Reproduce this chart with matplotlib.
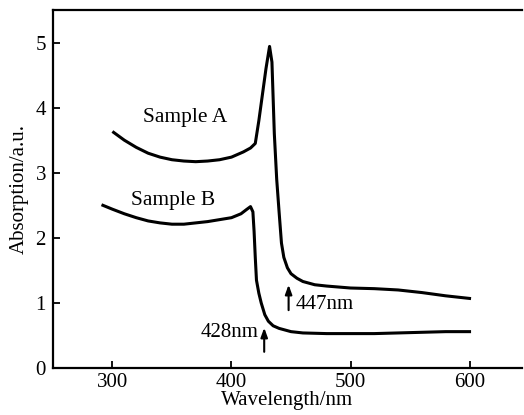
import numpy as np
import matplotlib
matplotlib.use("Agg")
import matplotlib.pyplot as plt

plt.rcParams["font.family"] = ["Liberation Serif", "DejaVu Serif"]

# values
wl_a = [301, 310, 320, 330, 340, 350, 360, 370, 380, 390, 400, 410, 416, 420,
        423, 426, 429, 432, 434, 436, 438, 440, 442, 444, 447, 450, 455, 460,
        470, 480, 500, 520, 540, 560, 580, 600]
abs_a = [3.62, 3.50, 3.39, 3.30, 3.24, 3.20, 3.18, 3.17, 3.18, 3.20, 3.24, 3.32,
         3.38, 3.45, 3.80, 4.20, 4.60, 4.94, 4.70, 3.60, 2.90, 2.40, 1.92, 1.70,
         1.54, 1.45, 1.38, 1.33, 1.28, 1.26, 1.23, 1.22, 1.20, 1.16, 1.11, 1.07]

wl_b = [292, 300, 310, 320, 330, 340, 350, 360, 370, 380, 390, 400, 408, 413,
        416, 418, 419, 420, 421, 423, 425, 428, 431, 435, 440, 450, 460, 480,
        500, 520, 540, 560, 580, 600]
abs_b = [2.50, 2.44, 2.37, 2.31, 2.26, 2.23, 2.21, 2.21, 2.23, 2.25, 2.28, 2.31,
         2.37, 2.44, 2.48, 2.40, 2.10, 1.70, 1.35, 1.15, 1.00, 0.82, 0.72, 0.65,
         0.61, 0.56, 0.54, 0.53, 0.53, 0.53, 0.54, 0.55, 0.56, 0.56]

x_ticks = [300, 400, 500, 600]
y_ticks = [0, 1, 2, 3, 4, 5]

fig = plt.figure(figsize=(5.24, 4.15), dpi=100)
ax = fig.add_axes([0.101, 0.113, 0.895, 0.863])

ax.plot(wl_a, abs_a, color="black", linewidth=2.2, solid_joinstyle="round")
ax.plot(wl_b, abs_b, color="black", linewidth=2.2, solid_joinstyle="round")

ax.text(361, 3.85, "Sample A", fontsize=15.5, ha="center", va="center")
ax.text(351, 2.58, "Sample B", fontsize=15.5, ha="center", va="center")

arrow = dict(arrowstyle="-|>,head_length=0.55,head_width=0.2", color="black",
             linewidth=1.5, shrinkA=0, shrinkB=0)
ax.annotate("", xy=(448, 1.28), xytext=(448, 0.89), arrowprops=arrow)
ax.text(454, 0.97, "447nm", fontsize=15, ha="left", va="center")
ax.annotate("", xy=(427.5, 0.62), xytext=(427.5, 0.25), arrowprops=arrow)
ax.text(423, 0.54, "428nm", fontsize=15, ha="right", va="center")

ax.set_xlim(250, 644)
ax.set_ylim(0, 5.5)
ax.set_xticks(x_ticks)
ax.set_yticks(y_ticks)
ax.tick_params(direction="in", length=5, width=1.3, labelsize=15)
ax.tick_params(axis="y", pad=5)
ax.spines["right"].set_visible(False)
for s in ["left", "bottom", "top"]:
    ax.spines[s].set_linewidth(1.6)

ax.set_xlabel("Wavelength/nm", fontsize=15, labelpad=-1)
ax.set_ylabel("Absorption/a.u.", fontsize=15, labelpad=5)

fig.savefig("out.png", dpi=100)
